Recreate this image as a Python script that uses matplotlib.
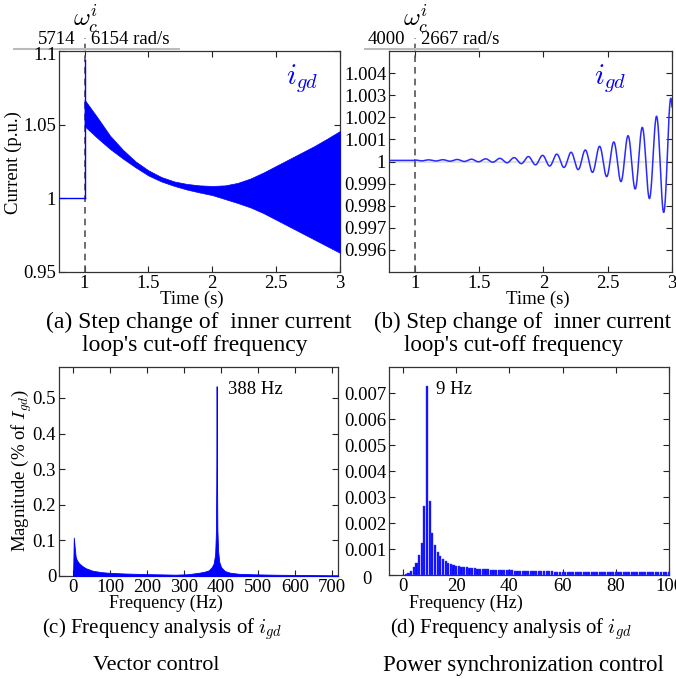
import numpy as np
import matplotlib
matplotlib.use("Agg")
import matplotlib.pyplot as plt
from matplotlib.lines import Line2D
from matplotlib.ticker import FuncFormatter
import matplotlib.transforms as mtransforms

plt.rcParams['font.family'] = ['Liberation Serif', 'DejaVu Serif']
plt.rcParams['mathtext.fontset'] = 'cm'

# ---------------- data ----------------
# (a) vector control: envelope of i_gd (388 Hz oscillation band)
t_a = [1.0, 1.05, 1.1, 1.2, 1.3, 1.4, 1.5, 1.6, 1.7, 1.8, 1.9, 2.0, 2.1, 2.2,
       2.3, 2.4, 2.5, 2.6, 2.7, 2.8, 2.9, 3.0]
upper_a = [1.067, 1.061, 1.055, 1.0425, 1.033, 1.025, 1.019, 1.0145, 1.0115, 1.0098,
           1.0088, 1.0084, 1.0088, 1.0105, 1.0135, 1.0175, 1.022, 1.0265, 1.031,
           1.0355, 1.0405, 1.0457]
lower_a = [1.049, 1.045, 1.041, 1.0335, 1.027, 1.021, 1.0155, 1.0115, 1.0085, 1.006,
           1.004, 1.0022, 0.9995, 0.9968, 0.9938, 0.990, 0.9855, 0.981, 0.9765,
           0.972, 0.9675, 0.963]
pre_a_level = 1.0
spike_a = 1.094
t_start = 0.8
t_step = 1.0

# (b) power synchronization control: growing 9 Hz oscillation
t_b = [1.0, 1.2, 1.4, 1.6, 1.8, 1.914, 2.018, 2.134, 2.238, 2.355, 2.458, 2.575,
       2.684, 2.795, 2.904, 3.0]
amp_b = [0.00002, 0.00003, 0.00005, 0.00008, 0.000135, 0.00019, 0.00024, 0.0003,
         0.00039, 0.0005, 0.00068, 0.00089, 0.0012, 0.0016, 0.00213, 0.0029]
center_b = 1.00005
osc_freq_b = 9.03
first_peak_b = 1.7716

# (c) spectrum, vector control
f_c = [0, 2, 4, 7, 10, 16, 25, 34, 52, 75, 97, 140, 187, 240, 277, 310, 340, 355,
       367, 375, 380, 384, 386, 387, 388, 389, 390, 392, 395, 400, 410, 425, 450,
       500, 550, 600, 650, 700, 716]
mag_c = [0, 0.108, 0.085, 0.054, 0.045, 0.036, 0.028, 0.022, 0.015, 0.011, 0.009,
         0.007, 0.0056, 0.0045, 0.0037, 0.005, 0.009, 0.012, 0.016, 0.025, 0.035,
         0.06, 0.12, 0.25, 0.533, 0.28, 0.13, 0.07, 0.04, 0.025, 0.014, 0.009,
         0.006, 0.0045, 0.0035, 0.003, 0.0025, 0.002, 0.002]

# (d) spectrum, power synchronization control (1 Hz bins, 0..100 Hz)
f_d = list(range(0, 101))
mag_d = [0.0, 0.00002, 0.00006, 0.00015, 0.00029, 0.00047, 0.00076, 0.00125, 0.00266,
         0.00726, 0.00286, 0.00163, 0.00114, 0.0009, 0.00073, 0.00061, 0.00052,
         0.00046, 0.00041, 0.00037, 0.00034, 0.00033, 0.00031, 0.0003, 0.00029,
         0.00028, 0.00027, 0.00026, 0.00025, 0.00024, 0.00024, 0.00023, 0.00022,
         0.00021, 0.00021, 0.0002, 0.0002, 0.00019, 0.00019, 0.00018, 0.00018,
         0.00018, 0.00017, 0.00017, 0.00017, 0.00016, 0.00016, 0.00016, 0.00015,
         0.00015, 0.00015, 0.00015, 0.00014, 0.00014, 0.00014, 0.00014, 0.00014,
         0.00013, 0.00013, 0.00013, 0.00013, 0.00013, 0.00013, 0.00012, 0.00012,
         0.00012, 0.00012, 0.00012, 0.00012, 0.00012, 0.00012, 0.00011, 0.00011,
         0.00011, 0.00011, 0.00011, 0.00011, 0.00011, 0.00011, 0.00011, 0.00011,
         0.0001, 0.0001, 0.0001, 0.0001, 0.0001, 0.0001, 0.0001, 0.0001, 0.0001,
         0.0001, 0.0001, 0.0001, 0.0001, 0.0001, 0.0001, 0.0001, 0.0001, 0.0001,
         0.0001, 0.0001]

wc_before = ["5714", "4000"]
wc_after = ["6154 rad/s", "2667 rad/s"]
peak_labels = ["388 Hz", "9 Hz"]
peak_pos = [(419, 0.525), (12.4, 0.00713)]

# ---------------- figure ----------------
W, H = 676, 679
fig = plt.figure(figsize=(W / 100, H / 100), dpi=100)
fig.patch.set_facecolor('white')

def ax_at(l, t, r, b):
    return fig.add_axes([l / W, 1 - b / H, (r - l) / W, (b - t) / H])

axA = ax_at(59, 51, 340, 272)
axB = ax_at(389, 51, 672, 272)
axC = ax_at(59, 367, 338, 576)
axD = ax_at(389, 367, 669, 575)

BLUE = '#0000ff'
fmt = FuncFormatter(lambda v, p: ('%g' % round(v, 6)))

for ax in (axA, axB, axC, axD):
    ax.tick_params(direction='in', top=True, right=True, length=4, width=0.8,
                   labelsize=13.5, pad=2, colors='#222222', labelcolor='black')
    for s in ax.spines.values():
        s.set_linewidth(0.9)
        s.set_color('#333333')
    ax.yaxis.set_major_formatter(fmt)
    ax.xaxis.set_major_formatter(fmt)

# (a)
axA.set_xlim(0.8, 3.0)
axA.set_ylim(0.95, 1.1)
axA.set_xticks([1, 1.5, 2, 2.5, 3])
a_yticks = [0.95, 1, 1.05, 1.1]
axA.set_yticks(a_yticks)
axA.set_yticklabels(['%g' % v for v in a_yticks[:-1]] + [''])
axA.plot([t_start, t_step], [pre_a_level, pre_a_level], color=BLUE, lw=1.0, zorder=3)
axA.plot([t_step, t_step], [pre_a_level, spike_a], color=BLUE, lw=1.0, zorder=3)
axA.fill_between(t_a, lower_a, upper_a, color=BLUE, lw=0.5, edgecolor=BLUE, zorder=3)

# (b)
axB.set_xlim(0.8, 3.0)
axB.set_ylim(0.995, 1.005)
axB.set_xticks([1, 1.5, 2, 2.5, 3])
axB.set_yticks([0.996, 0.997, 0.998, 0.999, 1.0, 1.001, 1.002, 1.003, 1.004])
axB.axhline(1.0, color='#e2e2e2', lw=1.5, zorder=1)
tt = np.linspace(t_step, 3.0, 4000)
env = np.exp(np.interp(tt, t_b, np.log(amp_b)))
yb = center_b + env * np.cos(2 * np.pi * osc_freq_b * (tt - first_peak_b))
axB.plot(np.r_[t_start, t_step, tt], np.r_[center_b, center_b, yb], color='#2a2aff', lw=1.1, zorder=3)

# dashed step markers + headers
for ax, tb, ta, xl, xr, ix in ((axA, wc_before[0], wc_after[0], 14, 179, 0.865),
                               (axB, wc_before[1], wc_after[1], 365, 478, 0.78)):
    trans = mtransforms.blended_transform_factory(ax.transData, ax.transAxes)
    ax.plot([t_step, t_step], [0, 1.06], transform=trans, color='#555555', lw=1.2,
            ls=(0, (4, 3)), clip_on=False, zorder=2)
    ax.text(t_step + 0.01, 1.145, r'$\omega_c^i$', transform=trans, ha='center', va='center',
            fontsize=18.5)
    ax.text(t_step - 0.075, 1.03, tb, transform=trans, ha='right', va='baseline', fontsize=13.5)
    ax.text(t_step + 0.05, 1.03, ta, transform=trans, ha='left', va='baseline', fontsize=13.5)
    fig.add_artist(Line2D([xl / W, xr / W], [1 - 48.5 / H, 1 - 48.5 / H], color='#bbbbbb', lw=1.5))
    ax.text(ix, 0.875, r'$i_{gd}$', transform=ax.transAxes, ha='center', va='center',
            fontsize=21, color=BLUE)

# (c)
axC.set_xlim(-38, 716)
axC.set_ylim(0, 0.587)
axC.set_xticks([0, 100, 200, 300, 400, 500, 600, 700])
axC.set_yticks([0, 0.1, 0.2, 0.3, 0.4, 0.5])
axC.fill_between(f_c, 0, mag_c, color=BLUE, lw=0.6, edgecolor=BLUE, zorder=3)
axC.text(peak_pos[0][0], peak_pos[0][1], peak_labels[0], ha='left', va='center', fontsize=13.5)

# (d)
axD.set_xlim(-5.3, 100)
axD.set_ylim(0, 0.008)
axD.set_xticks([0, 20, 40, 60, 80, 100])
d_yticks = [0, 0.001, 0.002, 0.003, 0.004, 0.005, 0.006, 0.007]
axD.set_yticks(d_yticks)
axD.set_yticklabels([''] + ['%g' % v for v in d_yticks[1:]])
axD.bar(f_d, mag_d, width=0.85, color='#0a0aff', edgecolor='#3a3aff', lw=0.3, zorder=3)
axD.text(peak_pos[1][0], peak_pos[1][1], peak_labels[1], ha='left', va='center', fontsize=13.5)

# labels and captions
def ftext(x, y, s, **kw):
    fig.text(x / W, 1 - y / H, s, ha='center', va='center', **kw)

fig.text(57 / W, 1 - 56 / H, '%g' % a_yticks[-1], ha='right', va='center', fontsize=13.5)
ftext(367, 580, '%g' % d_yticks[0], fontsize=13.5)
ftext(13, 163, 'Current (p.u.)', rotation=90, fontsize=13.5)
ftext(22, 471, r'Magnitude (% of $I_{gd}$)', rotation=90, fontsize=13.5)
ftext(192, 299, 'Time (s)', fontsize=13.5)
ftext(538, 299, 'Time (s)', fontsize=13.5)
ftext(199, 322, '(a) Step change of  inner current', fontsize=17)
ftext(195, 345, "loop's cut-off frequency", fontsize=17)
ftext(522, 322, '(b) Step change of  inner current', fontsize=16.5)
ftext(514, 345, "loop's cut-off frequency", fontsize=16.5)
ftext(166, 603, 'Frequency (Hz)', fontsize=13)
ftext(466, 603, 'Frequency (Hz)', fontsize=13)
ftext(162, 629, r'(c) Frequency analysis of $i_{gd}$', fontsize=15)
ftext(511, 629, r'(d) Frequency analysis of $i_{gd}$', fontsize=15)
ftext(156, 665, 'Vector control', fontsize=16)
ftext(523, 665, 'Power synchronization control', fontsize=16.5)

fig.savefig('out.png', dpi=100, facecolor='white')
